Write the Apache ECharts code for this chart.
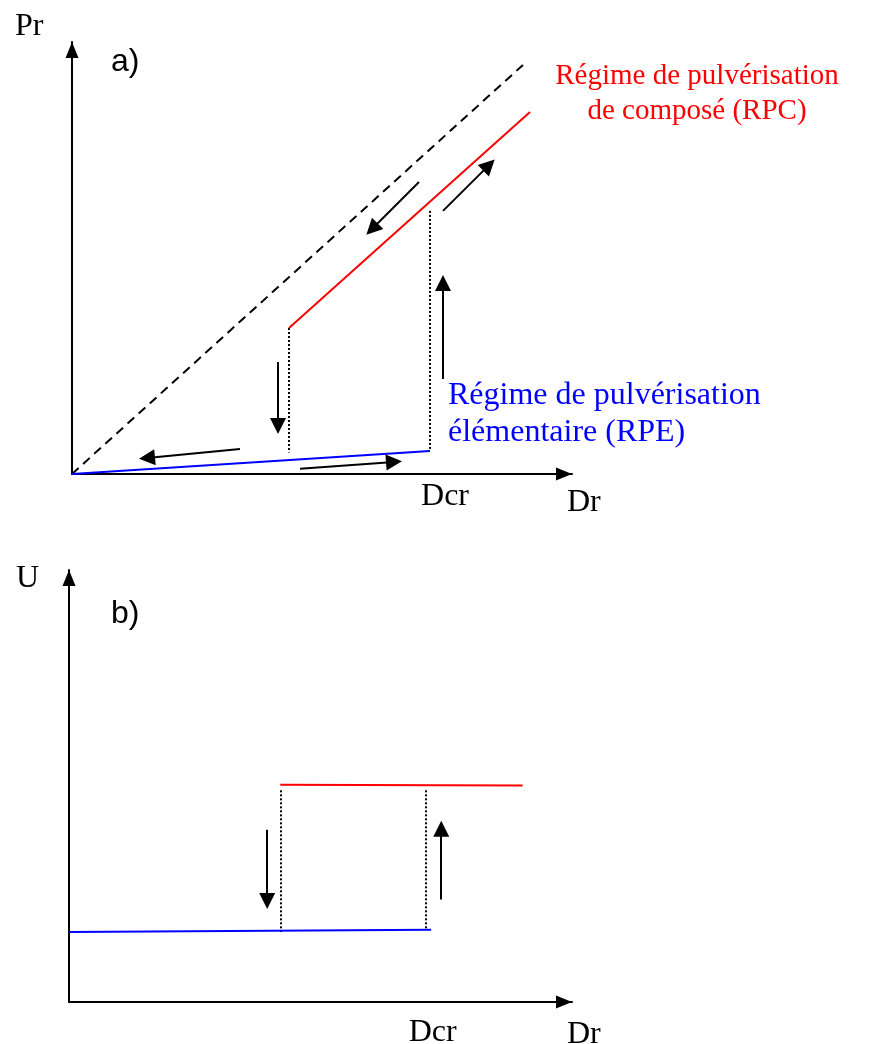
<!DOCTYPE html>
<html>
<head>
<meta charset="utf-8">
<script src="https://cdn.jsdelivr.net/npm/echarts@6/dist/echarts.min.js"></script>
<style>
  html, body { margin: 0; padding: 0; background: #fff; }
  #chart { width: 872px; height: 1044px; }
</style>
</head>
<body>
<div id="chart"></div>
<script>
// a) Pr = f(Dr)  (arbitrary units, 0..100 on each axis)
var dashedA = [[0, 0], [90.2, 94.7]];
var redA = [[43.4, 33.8], [91.6, 83.8]];
var blueA = [[0, 0], [71.6, 5.3]];
var dottedA = [
  [[43.4, 33.8], [43.4, 5.0]],
  [[71.6, 60.9], [71.6, 5.3]]
];
var arrowsA = [
  [[74.2, 60.9], [83.4, 71.5]],
  [[69.4, 67.6], [60.0, 56.7]],
  [[74.2, 22.0], [74.2, 44.2]],
  [[41.2, 25.9], [41.2, 11.1]],
  [[33.6, 5.8], [15.0, 3.7]],
  [[45.6, 1.2], [64.4, 2.8]]
];
var dcrA = 74.6;

// b) U = f(Dr)
var redB = [[42.0, 50.3], [90.2, 50.1]];
var blueB = [[0, 16.2], [72.0, 16.7]];
var dottedB = [
  [[42.0, 49.0], [42.0, 16.2]],
  [[71.0, 49.0], [71.0, 16.7]]
];
var arrowsB = [
  [[39.4, 39.9], [39.4, 23.4]],
  [[74.0, 23.7], [74.0, 40.1]]
];
var dcrB = 72.3;

var serif = '"Liberation Serif", "DejaVu Serif", serif';
var sans = '"Liberation Sans", Arial, sans-serif';

var chart = echarts.init(document.getElementById('chart'));

function xAxisDef(idx, dcr, margin) {
  return {
    type: 'value', gridIndex: idx, min: 0, max: 100,
    splitLine: { show: false },
    axisTick: { show: false },
    axisLine: {
      onZero: false,
      symbol: ['none', 'triangle'], symbolSize: [13, 16], symbolOffset: [0, -8],
      lineStyle: { color: '#000', width: 2 }
    },
    axisLabel: {
      customValues: [dcr], margin: margin,
      formatter: function () { return 'Dcr'; },
      color: '#000', fontFamily: serif, fontSize: 32
    }
  };
}
function yAxisDef(idx) {
  return {
    type: 'value', gridIndex: idx, min: 0, max: 100,
    splitLine: { show: false },
    axisTick: { show: false },
    axisLabel: { show: false },
    axisLine: {
      onZero: false,
      symbol: ['none', 'triangle'], symbolSize: [13, 16], symbolOffset: [0, -8],
      lineStyle: { color: '#000', width: 2 }
    }
  };
}
function plain(idx, data, color, type, width) {
  return {
    type: 'line', xAxisIndex: idx, yAxisIndex: idx, data: data,
    showSymbol: false, symbol: 'none', silent: true,
    lineStyle: { color: color, width: width, type: type }
  };
}
function segs(idx, list, type, width, arrow) {
  return {
    type: 'lines', coordinateSystem: 'cartesian2d', xAxisIndex: idx, yAxisIndex: idx,
    silent: true,
    symbol: arrow ? ['none', 'triangle'] : 'none',
    symbolSize: arrow ? [15, 16] : 0,
    data: list.map(function (c) { return { coords: c }; }),
    lineStyle: { color: '#000', width: width, type: type, opacity: 1 }
  };
}

chart.setOption({
  animation: false,
  backgroundColor: '#fff',
  grid: [
    { left: 72, width: 500, top: 42, height: 432, outerBoundsMode: 'none' },
    { left: 69, width: 503, top: 570, height: 432, outerBoundsMode: 'none' }
  ],
  xAxis: [xAxisDef(0, dcrA, 7), xAxisDef(1, dcrB, 15)],
  yAxis: [yAxisDef(0), yAxisDef(1)],
  series: [
    plain(0, dashedA, '#000', [9, 6], 2),
    plain(0, redA, '#ff0000', 'solid', 2),
    plain(0, blueA, '#0000ff', 'solid', 2),
    segs(0, dottedA, [2, 2], 2, false),
    segs(0, arrowsA, 'solid', 2, true),
    plain(1, redB, '#ff0000', 'solid', 2),
    plain(1, blueB, '#0000ff', 'solid', 2),
    segs(1, dottedB, [2, 2], 2, false),
    segs(1, arrowsB, 'solid', 2, true)
  ],
  graphic: [
    { type: 'text', x: 15, y: 27, style: { text: 'Pr', font: '32px ' + serif, fill: '#000', verticalAlign: 'middle' } },
    { type: 'text', x: 111, y: 62, style: { text: 'a)', font: '32px ' + sans, fill: '#000', verticalAlign: 'middle' } },
    { type: 'text', x: 697, y: 94, style: { text: 'Régime de pulvérisation\nde composé (RPC)', font: '29px ' + serif, lineHeight: 35, fill: '#ff0000', align: 'center', verticalAlign: 'middle' } },
    { type: 'text', x: 448, y: 414, style: { text: 'Régime de pulvérisation\nélémentaire (RPE)', font: '32px ' + serif, lineHeight: 37, fill: '#0000ff', align: 'left', verticalAlign: 'middle' } },
    { type: 'text', x: 567, y: 503, style: { text: 'Dr', font: '32px ' + serif, fill: '#000', verticalAlign: 'middle' } },
    { type: 'text', x: 16, y: 579, style: { text: 'U', font: '32px ' + serif, fill: '#000', verticalAlign: 'middle' } },
    { type: 'text', x: 111, y: 614, style: { text: 'b)', font: '32px ' + sans, fill: '#000', verticalAlign: 'middle' } },
    { type: 'text', x: 567, y: 1035, style: { text: 'Dr', font: '32px ' + serif, fill: '#000', verticalAlign: 'middle' } }
  ]
});
</script>
</body>
</html>
